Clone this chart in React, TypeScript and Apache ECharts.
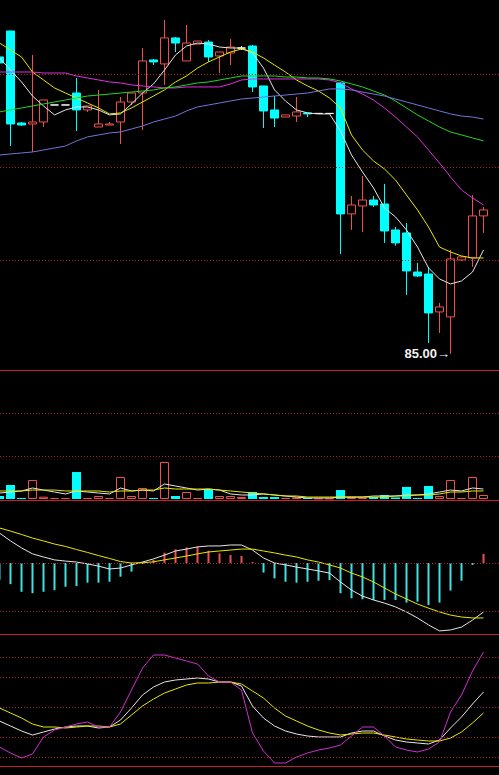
import React, { useEffect, useRef } from "react";
import * as echarts from "echarts";

// Daily bars: [open, close, low, high]
const candles: number[][] = [
  [108.87, 108.39, 108.22, 109.03],
  [110.96, 103.48, 101.71, 110.96],
  [103.56, 103.4, 103.32, 103.64],
  [103.48, 103.64, 101.23, 109.03],
  [103.64, 105.41, 103.24, 105.41],
  [105.01, 105.01, 105.01, 105.01],
  [105.01, 105.01, 105.01, 105.01],
  [105.97, 104.61, 102.92, 107.18],
  [104.61, 104.93, 104.45, 104.93],
  [103.24, 103.48, 103.24, 106.22],
  [103.4, 103.48, 103.4, 103.64],
  [103.64, 105.25, 101.87, 105.65],
  [105.25, 105.97, 105.01, 105.97],
  [105.97, 108.55, 103.0, 109.59],
  [108.63, 108.47, 108.22, 108.71],
  [108.31, 110.4, 106.62, 111.84],
  [110.4, 109.99, 109.27, 110.48],
  [108.55, 109.99, 108.55, 111.44],
  [109.91, 110.15, 109.91, 110.15],
  [110.07, 108.87, 108.47, 110.23],
  [108.95, 109.27, 107.58, 109.27],
  [109.19, 109.67, 108.22, 110.32],
  [109.59, 109.59, 109.43, 109.75],
  [109.75, 106.46, 106.05, 109.83],
  [106.54, 104.53, 103.16, 106.54],
  [104.61, 103.96, 103.24, 105.73],
  [104.04, 104.21, 104.04, 104.21],
  [104.12, 104.45, 103.64, 105.65],
  [104.37, 104.29, 104.04, 104.37],
  [104.33, 104.33, 104.33, 104.33],
  [104.33, 104.33, 104.33, 104.33],
  [106.78, 96.25, 93.03, 106.86],
  [96.25, 96.97, 94.96, 97.69],
  [96.89, 97.37, 94.8, 99.3],
  [97.37, 96.97, 96.81, 97.69],
  [97.05, 94.88, 93.92, 98.66],
  [94.96, 93.92, 93.68, 95.2],
  [94.72, 91.67, 89.74, 95.52],
  [91.58, 91.26, 91.18, 92.31],
  [91.42, 88.29, 85.88, 91.99],
  [88.37, 88.77, 86.68, 89.09],
  [87.97, 92.63, 85.0, 93.35],
  [92.55, 92.79, 92.47, 92.87],
  [92.71, 96.09, 91.99, 97.77],
  [96.09, 96.57, 94.72, 96.81],
];

// Moving averages of the close
const ma5 = [108.79, 107.82, 106.86, 105.73, 104.93, 104.21, 104.61, 104.85, 104.85, 104.61, 104.21, 104.29, 105.09, 105.97, 106.7, 107.82, 109.03, 109.75, 109.99, 109.91, 109.67, 109.59, 109.59, 109.19, 107.98, 106.22, 105.33, 104.61, 104.37, 104.29, 104.29, 102.92, 100.99, 99.62, 98.34, 96.73, 96.01, 94.96, 93.59, 91.91, 91.02, 90.62, 90.86, 91.58, 93.35];
const ma10 = [109.99, 109.43, 108.87, 107.66, 107.02, 106.38, 105.97, 105.57, 105.17, 104.77, 104.29, 104.37, 104.77, 105.25, 105.73, 106.22, 106.86, 107.34, 107.98, 108.47, 108.87, 109.27, 109.51, 109.27, 108.79, 108.22, 107.66, 107.02, 106.54, 106.13, 105.57, 104.77, 102.6, 101.39, 100.51, 99.86, 98.98, 97.77, 96.57, 95.2, 93.59, 93.19, 92.87, 92.71, 92.71];
const ma20 = [107.66, 107.66, 107.66, 107.66, 107.58, 107.58, 107.58, 107.34, 107.18, 107.02, 106.86, 106.78, 106.62, 106.54, 106.46, 106.38, 106.38, 106.46, 106.46, 106.46, 106.46, 106.7, 107.02, 107.1, 107.1, 107.1, 107.1, 107.1, 107.1, 107.1, 107.02, 106.78, 106.3, 105.89, 105.41, 104.77, 104.04, 103.24, 102.44, 101.39, 100.35, 99.22, 98.18, 97.53, 96.97];
const ma30 = [104.45, 104.61, 104.77, 104.93, 105.09, 105.25, 105.41, 105.57, 105.73, 105.81, 105.89, 105.97, 106.05, 106.13, 106.22, 106.38, 106.46, 106.62, 106.78, 106.86, 107.02, 107.18, 107.34, 107.34, 107.34, 107.34, 107.26, 107.26, 107.18, 107.18, 107.1, 106.94, 106.7, 106.46, 106.13, 105.81, 105.33, 104.77, 104.21, 103.72, 103.24, 102.84, 102.6, 102.36, 102.12];
const ma60 = [100.99, 101.07, 101.15, 101.23, 101.39, 101.55, 101.71, 102.12, 102.44, 102.6, 102.76, 102.84, 103.08, 103.32, 103.64, 103.88, 104.12, 104.53, 104.85, 105.01, 105.17, 105.33, 105.49, 105.57, 105.65, 105.73, 105.81, 105.89, 105.97, 106.13, 106.3, 106.3, 106.22, 106.05, 105.89, 105.73, 105.49, 105.25, 105.01, 104.77, 104.53, 104.29, 104.12, 104.04, 103.88];

// Volume (lots) and its averages
const volume = [35, 164, 12, 223, 27, 12, 12, 316, 12, 35, 12, 258, 35, 129, 12, 434, 35, 82, 12, 117, 35, 35, 23, 82, 23, 23, 12, 18, 12, 6, 6, 105, 23, 18, 23, 47, 18, 141, 12, 152, 35, 223, 12, 258, 47];
const volMa5 = [70, 82, 94, 129, 105, 82, 59, 94, 82, 70, 59, 129, 94, 105, 94, 176, 152, 129, 105, 117, 105, 59, 47, 47, 59, 47, 35, 23, 12, 12, 12, 23, 23, 23, 35, 35, 35, 47, 47, 59, 82, 105, 94, 129, 117];
const volMa10 = [94, 94, 94, 105, 105, 105, 94, 94, 94, 94, 82, 94, 94, 105, 105, 129, 117, 117, 117, 117, 105, 94, 82, 70, 59, 47, 35, 35, 23, 23, 23, 23, 23, 23, 23, 23, 35, 35, 47, 47, 59, 82, 82, 94, 94];

// MACD
const macdHist = [-0.7, -0.88, -1.2, -1.26, -1.2, -1.13, -0.99, -0.96, -0.82, -0.82, -0.78, -0.57, -0.36, -0.04, 0.13, 0.43, 0.57, 0.65, 0.68, 0.51, 0.4, 0.33, 0.29, 0.04, -0.4, -0.64, -0.78, -0.82, -0.78, -0.74, -0.71, -1.26, -1.47, -1.51, -1.54, -1.54, -1.54, -1.65, -1.61, -1.75, -1.65, -1.15, -0.74, -0.08, 0.38];
const dif = [1.25, 0.92, 0.63, 0.38, 0.25, 0.13, 0.08, 0.04, -0.04, -0.13, -0.25, -0.21, -0.08, 0.04, 0.17, 0.33, 0.5, 0.58, 0.67, 0.71, 0.71, 0.75, 0.75, 0.54, 0.21, 0.0, -0.08, -0.17, -0.25, -0.33, -0.42, -0.79, -1.13, -1.38, -1.54, -1.67, -1.83, -2.04, -2.29, -2.58, -2.83, -2.79, -2.67, -2.38, -2.04];
const dea = [1.46, 1.33, 1.19, 1.04, 0.92, 0.79, 0.69, 0.56, 0.44, 0.31, 0.19, 0.06, 0.0, 0.01, 0.05, 0.13, 0.21, 0.29, 0.38, 0.46, 0.5, 0.54, 0.58, 0.58, 0.5, 0.42, 0.33, 0.25, 0.13, 0.04, -0.08, -0.21, -0.42, -0.58, -0.79, -1.04, -1.29, -1.5, -1.71, -1.88, -2.04, -2.17, -2.25, -2.29, -2.29];

// KDJ
const kLine = [36, 31, 26, 22, 25, 28, 30, 31, 31, 29, 30, 37, 49, 62, 70, 75, 77, 78, 79, 78, 75, 75, 71, 51, 39, 31, 26, 23, 21, 20, 20, 20, 24, 26, 26, 21, 17, 15, 14, 13, 17, 29, 40, 53, 65];
const dLine = [49, 44, 39, 33, 30, 30, 29, 30, 31, 31, 30, 33, 42, 51, 58, 64, 68, 72, 74, 74, 75, 75, 73, 66, 59, 49, 41, 36, 31, 27, 24, 22, 23, 24, 24, 22, 20, 18, 17, 16, 16, 19, 25, 34, 44];
const jLine = [10, 4, -1, 3, 20, 27, 30, 33, 35, 30, 30, 45, 67, 89, 102, 102, 99, 96, 93, 81, 75, 75, 67, 24, 6, -6, -6, 0, 4, 7, 9, 12, 21, 30, 30, 21, 10, 7, 5, 8, 15, 45, 62, 86, 105];

// Reference levels per panel
const priceLevels = [92.5, 100, 107.5];
const volumeLevels = [500, 1000];
const macdLevels = [0, -2];
const kdjLevels = [0, 20, 50, 80, 100];

const UP = "#f0504a";
const DOWN = "#00ffff";
const FLAT = "#ffffff";
const DOT = "#a82828";
const FRAME = "#c81e32";

const WIDTH = 506;
const panels = [
  { top: 0, height: 371, min: 83.62, max: 113.45 },
  { top: 371, height: 130, min: -23.44, max: 1500 },
  { top: 501, height: 134, min: -3, max: 2.5833 },
  { top: 635, height: 132, min: -10, max: 122 },
];

export default function App() {
  const ref = useRef<HTMLDivElement>(null);

  useEffect(() => {
    if (!ref.current) return;
    const chart = echarts.init(ref.current, null, { renderer: "svg" });
    const sessions = candles.map((_, i) => String(i + 1));

    const candleData = candles.map((c) =>
      c[0] === c[1]
        ? { value: c, itemStyle: { color: FLAT, color0: FLAT, borderColor: FLAT, borderColor0: FLAT } }
        : c
    );
    const volData = volume.map((v, i) => {
      const down = candles[i][1] < candles[i][0];
      return {
        value: v,
        itemStyle: down
          ? { color: DOWN, borderColor: DOWN, borderWidth: 0 }
          : { color: "rgba(0,0,0,0)", borderColor: UP, borderWidth: 1 },
      };
    });
    const macdData = macdHist.map((v) => ({ value: v, itemStyle: { color: v >= 0 ? UP : "#3ee0e0" } }));

    const levels = (idx: number, vals: number[]) => ({
      type: "line",
      xAxisIndex: idx,
      yAxisIndex: idx,
      data: [],
      z: 1,
      silent: true,
      markLine: {
        silent: true,
        symbol: ["none", "none"],
        label: { show: false },
        lineStyle: { color: DOT, type: [1, 2], width: 1 },
        data: vals.map((v) => ({ yAxis: v })),
      },
    });
    const line = (idx: number, data: number[], color: string) => ({
      type: "line",
      xAxisIndex: idx,
      yAxisIndex: idx,
      data,
      symbol: "none",
      z: 3,
      lineStyle: { color, width: 1 },
    });

    chart.setOption({
      animation: false,
      backgroundColor: "#000000",
      // panel separators along the bottom edge of each pane
      graphic: panels.map((p) => ({
        type: "line",
        silent: true,
        z: 10,
        shape: { x1: 0, y1: p.top + p.height - 0.5, x2: WIDTH, y2: p.top + p.height - 0.5 },
        style: { stroke: FRAME, lineWidth: 1 },
      })),
      grid: panels.map((p) => ({ left: 0, right: 0, top: p.top, height: p.height, containLabel: false })),
      xAxis: panels.map((_, i) => ({
        type: "category",
        gridIndex: i,
        data: sessions,
        max: sessions.length,
        boundaryGap: true,
        axisLine: { show: false },
        axisTick: { show: false },
        axisLabel: { show: false },
        splitLine: { show: false },
      })),
      yAxis: panels.map((p, i) => ({
        type: "value",
        gridIndex: i,
        min: p.min,
        max: p.max,
        show: false,
      })),
      series: [
        levels(0, priceLevels),
        levels(1, volumeLevels),
        levels(2, macdLevels),
        levels(3, kdjLevels),
        {
          type: "candlestick",
          xAxisIndex: 0,
          yAxisIndex: 0,
          data: candleData,
          barWidth: 9,
          z: 2,
          itemStyle: {
            color: "rgba(0,0,0,0)",
            color0: DOWN,
            borderColor: UP,
            borderColor0: DOWN,
            borderColorDoji: FLAT,
            borderWidth: 1,
          },
          markPoint: {
            symbol: "circle",
            symbolSize: 1,
            itemStyle: { color: "rgba(0,0,0,0)" },
            label: {
              show: true,
              position: "left",
              distance: 0,
              color: "#f2f2f2",
              fontSize: 13,
              fontWeight: "bold",
              fontFamily: "Liberation Sans, Arial, sans-serif",
              formatter: (p: any) => `${Number(p.value).toFixed(2)}→`,
            },
            data: [{ type: "min", valueDim: "lowest" }],
          },
        },
        line(0, ma5, "#e6e6e6"),
        line(0, ma10, "#e8e800"),
        line(0, ma20, "#e030e0"),
        line(0, ma30, "#22d822"),
        line(0, ma60, "#7474d8"),
        {
          type: "bar",
          xAxisIndex: 1,
          yAxisIndex: 1,
          data: volData,
          barWidth: 9,
          z: 2,
        },
        line(1, volMa5, "#e6e6e6"),
        line(1, volMa10, "#e8e800"),
        {
          type: "bar",
          xAxisIndex: 2,
          yAxisIndex: 2,
          data: macdData,
          barWidth: 2,
          z: 2,
        },
        line(2, dif, "#e6e6e6"),
        line(2, dea, "#e8e800"),
        line(3, kLine, "#e6e6e6"),
        line(3, dLine, "#e8e800"),
        line(3, jLine, "#d030d0"),
      ],
    });

    return () => chart.dispose();
  }, []);

  // The drawing surface starts a little left of the page so the first session sits half off-screen.
  return (
    <div
      ref={ref}
      style={{ position: "fixed", left: -6, top: 0, width: WIDTH, height: 775, background: "#000" }}
    />
  );
}
